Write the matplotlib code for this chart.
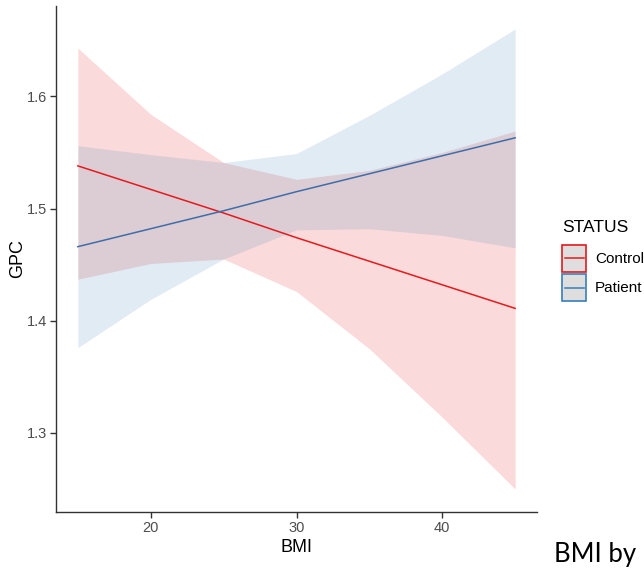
import matplotlib
matplotlib.use("Agg")
import matplotlib.pyplot as plt
from matplotlib.patches import Rectangle
from matplotlib.lines import Line2D
from matplotlib.legend_handler import HandlerBase

# ---- data ----
bmi = [15, 20, 25, 30, 35, 40, 45]
control_fit = [1.538, 1.517, 1.496, 1.474, 1.453, 1.432, 1.411]
control_lo = [1.437, 1.451, 1.455, 1.426, 1.375, 1.314, 1.250]
control_hi = [1.643, 1.584, 1.541, 1.526, 1.534, 1.550, 1.569]
patient_fit = [1.466, 1.482, 1.498, 1.515, 1.531, 1.547, 1.563]
patient_lo = [1.376, 1.419, 1.455, 1.481, 1.482, 1.476, 1.465]
patient_hi = [1.556, 1.548, 1.541, 1.549, 1.583, 1.620, 1.660]
groups = ["Control", "Patient"]
x_ticks = [20, 30, 40]
y_ticks = [1.3, 1.4, 1.5, 1.6]

red = "#E41A1C"
blue = "#377EB8"


class KeyHandler(HandlerBase):
    """ggplot-like key: grey box with coloured border and a centred line."""
    def create_artists(self, legend, orig_handle, xdescent, ydescent,
                       width, height, fontsize, trans):
        c = orig_handle.get_color()
        rect = Rectangle((-xdescent, -ydescent), width, height,
                         facecolor="#DEDEDE", edgecolor=c, lw=1.2,
                         transform=trans)
        yc = -ydescent + height / 2
        line = Line2D([-xdescent + 2, -xdescent + width - 2], [yc, yc],
                      color=c, lw=1.1, transform=trans)
        return [rect, line]


plt.rcParams["font.family"] = ["Liberation Sans", "DejaVu Sans"]

fig = plt.figure(figsize=(6.44, 5.68), dpi=100)
ax = fig.add_axes([56 / 644, 1 - 512 / 568, (537 - 56) / 644, (512 - 6) / 568])

ax.fill_between(bmi, control_lo, control_hi, color=red, alpha=0.16, lw=0)
ax.fill_between(bmi, patient_lo, patient_hi, color=blue, alpha=0.15, lw=0)
l1, = ax.plot(bmi, control_fit, color=red, lw=1.1)
l2, = ax.plot(bmi, patient_fit, color="#3F6DAA", lw=1.1)

ax.set_xlim(13.5, 46.5)
ax.set_ylim(1.2295, 1.6805)
ax.set_xticks(x_ticks)
ax.set_yticks(y_ticks)
ax.set_yticklabels([f"{v:.1f}" for v in y_ticks])

for s in ["top", "right"]:
    ax.spines[s].set_visible(False)
for s in ["left", "bottom"]:
    ax.spines[s].set_color("#333333")
    ax.spines[s].set_linewidth(1.0)
ax.tick_params(axis="both", colors="#333333", length=4, width=1.0,
               labelsize=10.5, labelcolor="#4D4D4D", pad=2.5)
ax.set_xlabel("BMI", fontsize=13, color="black", labelpad=3)
ax.set_ylabel("GPC", fontsize=13, color="black", labelpad=0.5)

key_c = Line2D([0], [0], color=red)
key_p = Line2D([0], [0], color=blue)
leg = fig.legend([key_c, key_p], groups,
                 handler_map={Line2D: KeyHandler()},
                 loc="upper left", bbox_to_anchor=(562 / 644, 1 - 220 / 568),
                 frameon=False, fontsize=11, title="STATUS", title_fontsize=12.5,
                 handlelength=1.6, handleheight=2.35, labelspacing=0.15,
                 handletextpad=0.55, borderpad=0, borderaxespad=0,
                 alignment="left")
leg._legend_box.sep = 7

fig.text(554 / 644, 1 - 562 / 568, "BMI by", fontsize=18.5,
         family=["Lato", "DejaVu Sans"], ha="left", va="baseline", color="black")

fig.savefig("out.png", dpi=100)
